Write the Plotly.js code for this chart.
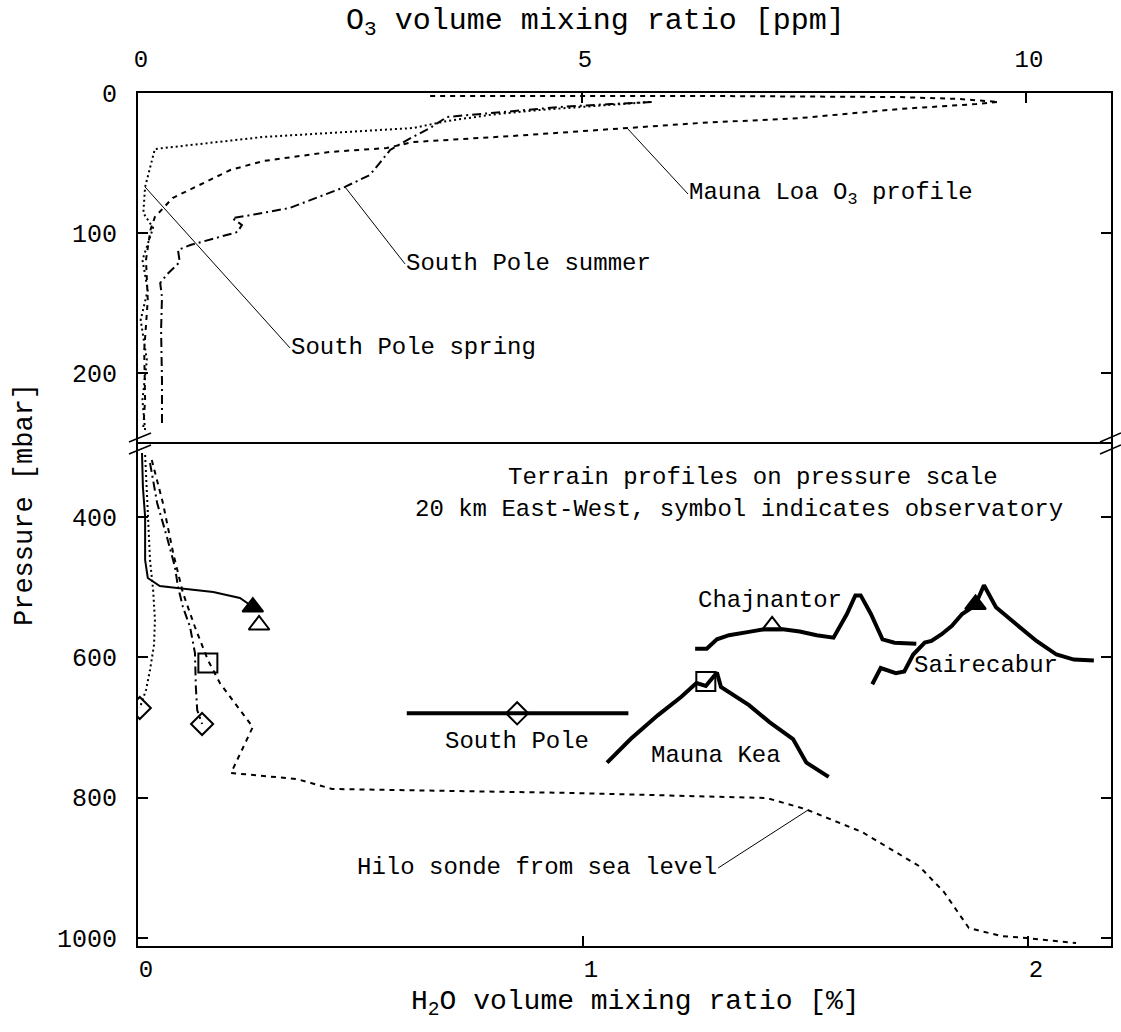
<!DOCTYPE html>
<html>
<head>
<meta charset="utf-8">
<script src="https://cdn.plot.ly/plotly-3.0.1.min.js"></script>
<style>html,body{margin:0;padding:0;background:#fff;}#chart{width:1121px;height:1032px;}</style>
</head>
<body>
<div id="chart"></div>
<script>
// ---------- Top panel: O3 volume mixing ratio [ppm] vs pressure [mbar] ----------
const maunaLoaO3_ppm = [3.29,6.33,8.58,9.26,9.69,9.44,8.58,7.46,6.33,5.51,4.22,3.10,2.80,2.16,1.41,1.04,0.39,0.19,0.14,0.09,0.11,0.07,0.08,0.06];
const maunaLoaO3_p   = [2.1,2.1,2.9,4.3,6.4,7.9,11.4,17.9,21.4,25.0,30.7,35.0,39.3,42.1,48.6,55.0,75.0,88.6,97.9,119.3,147.9,183.6,219.3,238.6];

const springO3_ppm = [0.08,0.05,0.10,0.03,0.11,0.05,0.17,0.06,0.08,0.19,1.41,2.84,3.10,3.48,4.04,4.53,5.20,5.77];
const springO3_p   = [240.7,219.3,190.7,162.1,140.7,119.3,96.4,85.7,67.1,40.0,31.4,26.4,25.0,20.0,15.0,12.1,9.3,6.4];

const summerO3_ppm = [0.27,0.27,0.26,0.27,0.25,0.32,0.47,0.45,0.59,1.12,1.17,1.06,1.21,1.71,2.33,2.61,2.73,2.84,3.03,3.29,3.48,4.11,4.75,5.32,5.82];
const summerO3_p   = [235.7,205.0,169.3,145.7,135.7,130.0,120.7,112.1,108.6,99.3,94.3,89.3,87.9,82.1,67.1,58.6,49.3,40.7,33.6,25.0,17.1,13.6,10.0,7.9,6.4];

// ---------- Bottom panel: H2O volume mixing ratio [%] vs pressure [mbar] ----------
const sairecaburH2O_pct = [0.009,0.011,0.016,0.016,0.022,0.049,0.088,0.169,0.229,0.252];
const sairecaburH2O_p   = [308.8,357.2,400.0,461.3,486.9,498.3,501.2,506.9,515.4,525.4];

const springH2O_pct = [0.016,0.020,0.022,0.027,0.034,0.038,0.036,0.027,0.018,0.009,0.004];
const springH2O_p   = [311.6,361.5,404.3,461.3,504.0,546.8,582.4,618.0,646.5,663.6,672.2];

const summerH2O_pct = [0.027,0.043,0.065,0.083,0.090,0.101,0.117,0.128,0.130,0.133,0.144];
const summerH2O_p   = [323.0,380.0,428.5,471.3,499.8,528.3,556.8,593.8,642.3,675.0,695.0];

const hiloH2O_pct = [0.031,0.056,0.079,0.101,0.128,0.157,0.184,0.229,0.258,0.209,0.357,0.436,0.975,1.413,1.499,1.627,1.755,1.811,1.867,1.939,1.996,2.108];
const hiloH2O_p   = [318.8,380.0,451.3,508.3,556.8,603.8,636.6,675.0,699.3,764.8,773.4,787.6,793.3,800.5,816.1,848.9,897.4,934.4,985.7,997.1,1000.0,1007.1];

// Observatory symbols on the sonde profiles
const obsSpring    = {x:[0.004], p:[672.2]};
const obsSummer    = {x:[0.144], p:[695.0]};
const obsMaunaKea  = {x:[0.157], p:[608.1]};
const obsSaire     = {x:[0.258], p:[528.3]};
const obsChaj      = {x:[0.272], p:[553.9]};

// ---------- Terrain profiles (20 km East-West, drawn on pressure scale) ----------
const terrSouthPole_x = [0.604,1.102];
const terrSouthPole_p = [679.8,679.8];
const terrChaj_x = [1.252,1.278,1.301,1.328,1.373,1.407,1.449,1.487,1.525,1.563,1.593,1.612,1.624,1.647,1.673,1.700,1.749];
const terrChaj_p = [587.8,587.8,574.3,568.4,563.7,559.9,559.9,563.2,568.4,571.9,538.2,511.7,511.7,538.2,574.3,579.1,580.6];
const terrSaire_x = [1.650,1.669,1.703,1.722,1.742,1.768,1.783,1.806,1.829,1.852,1.875,1.886,1.901,1.916,1.928,1.973,2.019,2.064,2.103,2.148];
const terrSaire_p = [638.4,615.2,622.5,620.0,596.0,579.1,576.7,567.0,555.0,538.2,528.5,518.9,497.2,514.0,528.5,552.6,576.7,596.0,603.2,604.6];
const terrMK_x = [1.054,1.107,1.168,1.221,1.255,1.276,1.301,1.310,1.373,1.419,1.472,1.502,1.552];
const terrMK_p = [750.1,716.4,682.7,656.2,636.6,640.8,621.5,642.3,668.2,692.3,716.4,750.1,770.4];
const terrSym_SouthPole = {x:[0.852], p:[679.8]};
const terrSym_Chaj      = {x:[1.425], p:[555.0]};
const terrSym_Saire     = {x:[1.882], p:[524.6]};
const terrSym_MK        = {x:[1.276], p:[634.6]};

// Tick values
const o3Ticks = [0,5,10];
const h2oTicks = [0,1,2];
const pTopTicks = [0,100,200];
const pBotTicks = [400,600,800,1000];

const FONT = 'Liberation Mono, Courier New, monospace';
const K = '#000';
const BREAK = 0.5897;

function line(x, y, dash, w, xa, ya) {
  return {x:x, y:y, mode:'lines', xaxis:xa, yaxis:ya, line:{color:K, width:w, dash:dash}, hoverinfo:'skip', showlegend:false};
}
function sym(o, symbol, size, xa, ya) {
  return {x:o.x, y:o.p, mode:'markers', xaxis:xa, yaxis:ya,
    marker:{symbol:symbol, size:size, color:K, line:{color:K, width:2}},
    hoverinfo:'skip', showlegend:false};
}

const DML = '5px,5px', DSP = '2px,3px', DSU = '9px,4px,2px,4px';

const data = [
  line(maunaLoaO3_ppm, maunaLoaO3_p, DML, 2, 'x2', 'y2'),
  line(springO3_ppm, springO3_p, DSP, 2, 'x2', 'y2'),
  line(summerO3_ppm, summerO3_p, DSU, 2, 'x2', 'y2'),

  line(sairecaburH2O_pct, sairecaburH2O_p, 'solid', 2, 'x', 'y'),
  line(springH2O_pct, springH2O_p, DSP, 2, 'x', 'y'),
  line(summerH2O_pct, summerH2O_p, DSU, 2, 'x', 'y'),
  line(hiloH2O_pct, hiloH2O_p, DML, 2, 'x', 'y'),

  line(terrSouthPole_x, terrSouthPole_p, 'solid', 4, 'x', 'y'),
  line(terrChaj_x, terrChaj_p, 'solid', 4, 'x', 'y'),
  line(terrSaire_x, terrSaire_p, 'solid', 4, 'x', 'y'),
  line(terrMK_x, terrMK_p, 'solid', 4, 'x', 'y'),

  sym(obsSpring, 'diamond-open', 17, 'x', 'y'),
  sym(obsSummer, 'diamond-open', 17, 'x', 'y'),
  sym(obsMaunaKea, 'square-open', 19, 'x', 'y'),
  sym(obsSaire, 'triangle-up', 18, 'x', 'y'),
  sym(obsChaj, 'triangle-up-open', 18, 'x', 'y'),
  sym(terrSym_SouthPole, 'diamond-open', 17, 'x', 'y'),
  sym(terrSym_Chaj, 'triangle-up-open', 18, 'x', 'y'),
  sym(terrSym_Saire, 'triangle-up', 18, 'x', 'y'),
  sym(terrSym_MK, 'square-open', 19, 'x', 'y')
];

const axBase = {showgrid:false, zeroline:false, showline:true, linecolor:K, linewidth:2,
  ticks:'inside', ticklen:10, tickwidth:2, tickcolor:K, tickfont:{family:FONT, size:24, color:K}};

const layout = {
  width:1121, height:1032,
  margin:{l:138, r:10, t:93, b:86},
  paper_bgcolor:'#fff', plot_bgcolor:'#fff',
  font:{family:FONT, color:K},
  showlegend:false,
  xaxis: Object.assign({}, axBase, {domain:[0,1], range:[0,2.1865], anchor:'y', side:'bottom',
    tickvals:h2oTicks, ticktext:h2oTicks.map(String), ticklabelstandoff:0, ticklabelshift:8, mirror:false}),
  xaxis2: Object.assign({}, axBase, {domain:[0,1], range:[0,10.957], anchor:'y2', side:'top',
    tickvals:o3Ticks, ticktext:o3Ticks.map(String), ticklabelstandoff:14, ticklabelshift:3, mirror:false}),
  yaxis: Object.assign({}, axBase, {domain:[0,BREAK], range:[1011.4,294.5], anchor:'x',
    tickvals:pBotTicks, ticktext:pBotTicks.map(String), mirror:'ticks', ticklabelstandoff:14,
    tickfont:{family:FONT, size:25, color:K}}),
  yaxis2: Object.assign({}, axBase, {domain:[BREAK,1], range:[250,0], anchor:'x2',
    tickvals:pTopTicks, ticktext:pTopTicks.map(String), mirror:'ticks', ticklabelstandoff:14,
    tickfont:{family:FONT, size:25, color:K}}),
  shapes:[
    {type:'line', xref:'paper', yref:'paper', x0:0, x1:1, y0:BREAK, y1:BREAK, line:{color:K, width:2}},
    {type:'line', xref:'paper', yref:'paper', xsizemode:'pixel', ysizemode:'pixel', xanchor:0, yanchor:BREAK,
      x0:-9, x1:13, y0:1, y1:10, line:{color:K, width:1.5}},
    {type:'line', xref:'paper', yref:'paper', xsizemode:'pixel', ysizemode:'pixel', xanchor:0, yanchor:BREAK,
      x0:-9, x1:13, y0:-11, y1:-2, line:{color:K, width:1.5}},
    {type:'line', xref:'paper', yref:'paper', xsizemode:'pixel', ysizemode:'pixel', xanchor:1, yanchor:BREAK,
      x0:-11, x1:10, y0:1, y1:10, line:{color:K, width:1.5}},
    {type:'line', xref:'paper', yref:'paper', xsizemode:'pixel', ysizemode:'pixel', xanchor:1, yanchor:BREAK,
      x0:-11, x1:10, y0:-11, y1:-2, line:{color:K, width:1.5}}
  ],
  annotations:[
    // axis titles
    {xref:'paper', yref:'paper', x:0.4707, y:1, yshift:71, showarrow:false, xanchor:'center', yanchor:'middle',
      text:'O<sub>3</sub> volume mixing ratio [ppm]', font:{family:FONT, size:30, color:K}},
    {xref:'paper', yref:'paper', x:0.5108, y:0, yshift:-57, showarrow:false, xanchor:'center', yanchor:'middle',
      text:'H<sub>2</sub>O volume mixing ratio [%]', font:{family:FONT, size:28, color:K}},
    {xref:'paper', yref:'paper', x:0, xshift:-113, y:0.517, showarrow:false, textangle:-90, xanchor:'center', yanchor:'middle',
      text:'Pressure [mbar]', font:{family:FONT, size:27, color:K}},
    // labelled profiles (leader lines)
    {xref:'x2', yref:'y2', x:5.507, y:25.0, ax:61, ay:66, showarrow:true, arrowhead:0, arrowwidth:1, arrowcolor:K,
      standoff:0, startstandoff:0, xanchor:'left', yanchor:'middle', borderpad:0,
      text:'Mauna Loa O<sub>3</sub> profile', font:{family:FONT, size:24, color:K}},
    {xref:'x2', yref:'y2', x:2.331, y:67.1, ax:60, ay:77, showarrow:true, arrowhead:0, arrowwidth:1, arrowcolor:K,
      standoff:0, startstandoff:0, xanchor:'left', yanchor:'middle', borderpad:0,
      text:'South Pole summer', font:{family:FONT, size:24, color:K}},
    {xref:'x2', yref:'y2', x:0.079, y:67.1, ax:145, ay:161, showarrow:true, arrowhead:0, arrowwidth:1, arrowcolor:K,
      standoff:0, startstandoff:0, xanchor:'left', yanchor:'middle', borderpad:0,
      text:'South Pole spring', font:{family:FONT, size:24, color:K}},
    {xref:'x', yref:'y', x:1.506, y:817.5, ax:-90, ay:58, showarrow:true, arrowhead:0, arrowwidth:1, arrowcolor:K,
      standoff:0, startstandoff:0, xanchor:'right', yanchor:'middle', borderpad:0,
      text:'Hilo sonde from sea level', font:{family:FONT, size:24, color:K}},
    // terrain texts
    {xref:'x', yref:'y', x:1.382, y:344.4, showarrow:false, text:'Terrain profiles on pressure scale', font:{family:FONT, size:24, color:K}},
    {xref:'x', yref:'y', x:1.351, y:388.6, showarrow:false, text:'20 km East-West, symbol indicates observatory', font:{family:FONT, size:24, color:K}},
    {xref:'x', yref:'y', x:1.420, y:519.7, showarrow:false, text:'Chajnantor', font:{family:FONT, size:24, color:K}},
    {xref:'x', yref:'y', x:1.906, y:612.3, showarrow:false, text:'Sairecabur', font:{family:FONT, size:24, color:K}},
    {xref:'x', yref:'y', x:0.852, y:720.6, showarrow:false, text:'South Pole', font:{family:FONT, size:24, color:K}},
    {xref:'x', yref:'y', x:1.299, y:740.6, showarrow:false, text:'Mauna Kea', font:{family:FONT, size:24, color:K}}
  ]
};

Plotly.newPlot('chart', data, layout, {displayModeBar:false, staticPlot:true});
</script>
</body>
</html>
